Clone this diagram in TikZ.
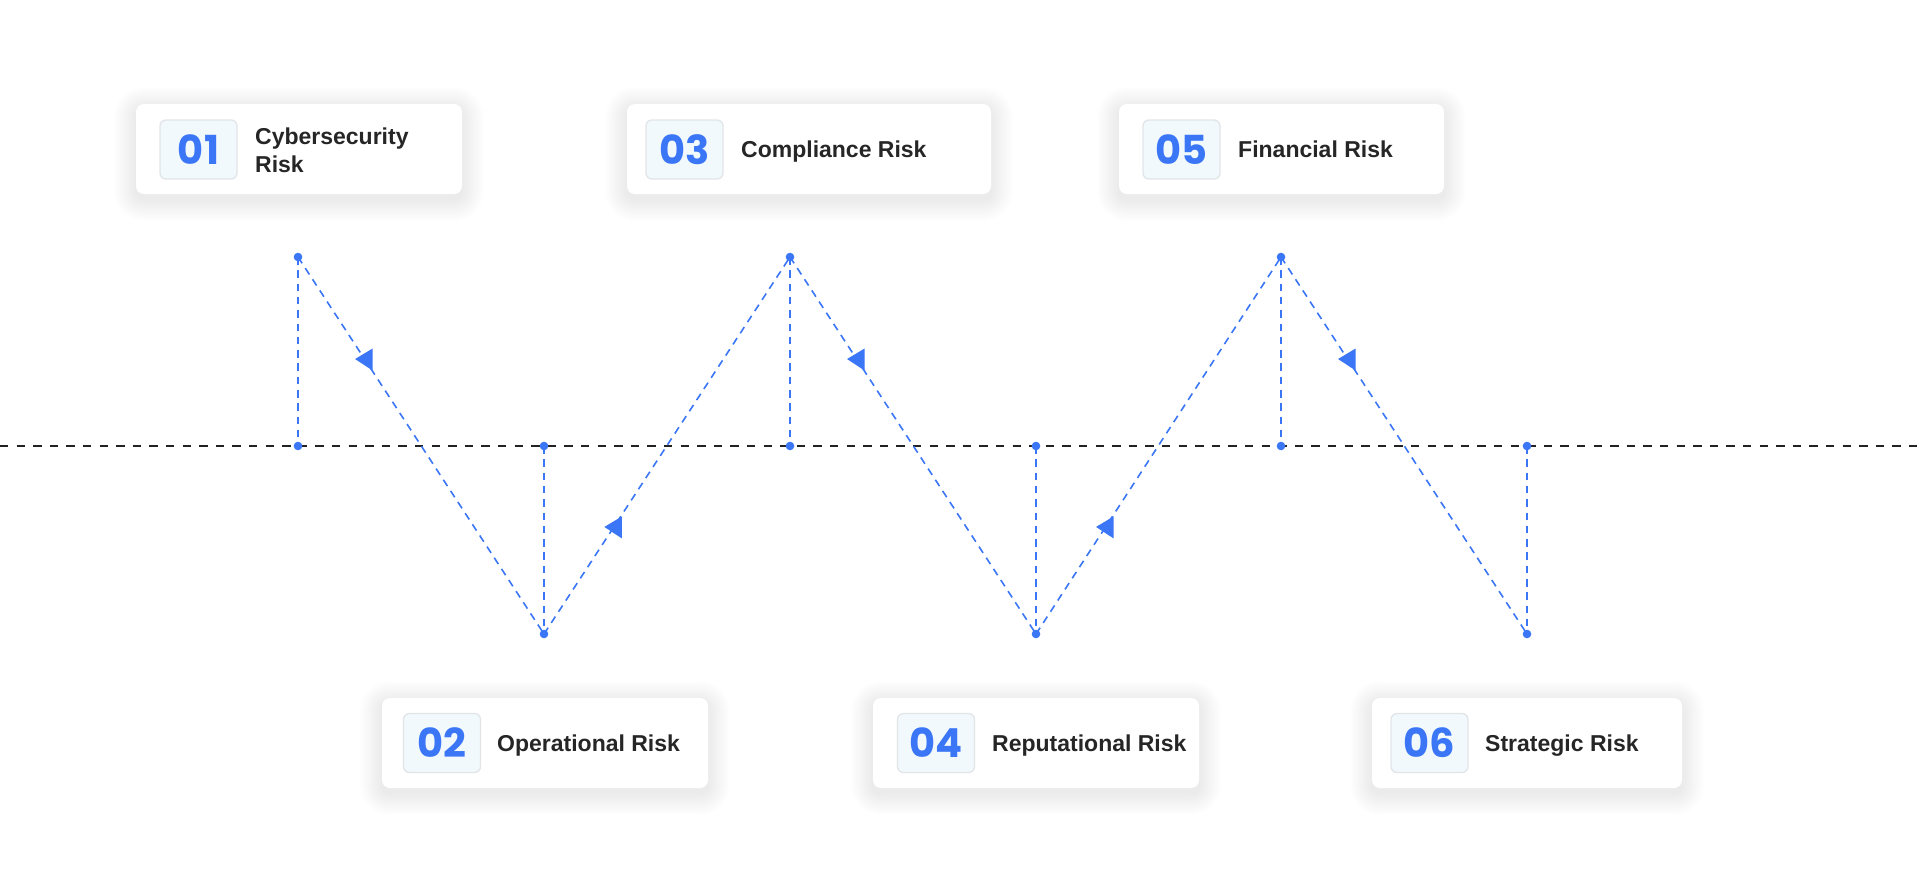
\documentclass[tikz,border=0pt]{standalone}
\usepackage{fontspec}
\setmainfont{Liberation Sans}
\newfontfamily\numfont{Poppins}
\usetikzlibrary{calc,backgrounds}
\definecolor{accent}{HTML}{3B76F6}
\definecolor{numfill}{HTML}{F1F9FD}
\definecolor{numborder}{HTML}{E2E5E8}
\definecolor{textdark}{HTML}{262626}
\definecolor{axisc}{HTML}{222222}
\tikzset{
  card/.style={fill=white, draw=none, rounded corners=8pt, minimum height=90pt, inner sep=0pt},
  numbox/.style={fill=numfill, draw=numborder, line width=1.3pt, rounded corners=6pt,
    minimum width=77pt, minimum height=59pt, inner sep=0pt, text=accent,
    font=\numfont\fontsize{40}{40}\selectfont\bfseries},
  lbl/.style={anchor=base west, inner sep=0pt, text=textdark, align=left,
    font=\fontsize{23}{28}\selectfont\bfseries},
  dot/.style={circle, fill=accent, draw=none, minimum size=8.6pt, inner sep=0pt},
  guide/.style={draw=accent, line width=1.6pt, dash pattern=on 7.5pt off 5.8pt},
  axisline/.style={draw=axisc, line width=2pt, dash pattern=on 8.3pt off 8.3pt},
  headfill/.style={fill=accent},
}
\begin{document}
\begin{tikzpicture}[x=1pt,y=-1pt]
\useasboundingbox (0,0) rectangle (1920,884);

% cards
\node[card, minimum width=326pt] (c1) at (299,149) {};
\node[card, minimum width=364pt] (c3) at (809,149) {};
\node[card, minimum width=325pt] (c5) at (1281.5,149) {};
\node[card, minimum width=326pt] (c2) at (545,743) {};
\node[card, minimum width=326pt] (c4) at (1036,743) {};
\node[card, minimum width=310pt] (c6) at (1527,743) {};

\begin{pgfonlayer}{background}
  \fill[white] (0,0) rectangle (1920,884);
  \foreach \c in {c1,c2,c3,c4,c5,c6}{
    \foreach \i in {1,...,20}{
      \pgfmathsetmacro\rr{8+1.1*\i}
      \pgfmathsetmacro\ss{1.1*\i}
      \fill[black, opacity=0.0028, rounded corners=\rr pt]
        ([xshift=-\ss pt, yshift=\ss pt-5pt]\c.north west) rectangle
        ([xshift=\ss pt, yshift=-\ss pt-5pt]\c.south east);
    }
  }
\end{pgfonlayer}

% number boxes
\node[numbox] (n1) at (198.5,149.5) {01};
\node[numbox] (n3) at (684.5,149.5) {03};
\node[numbox] (n5) at (1181.5,149.5) {05};
\node[numbox] (n2) at (442,743) {02};
\node[numbox] (n4) at (936,743) {04};
\node[numbox] (n6) at (1429.5,743) {06};

% labels
\node[lbl] (l1) at (255,172) {Cybersecurity\\Risk};
\node[lbl] (l3) at (741,157) {Compliance Risk};
\node[lbl] (l5) at (1238,157) {Financial Risk};
\node[lbl] (l2) at (497,751) {Operational Risk};
\node[lbl] (l4) at (992,751) {Reputational Risk};
\node[lbl] (l6) at (1485,751) {Strategic Risk};

% axis
\coordinate (L) at (0,446);
\coordinate (R) at (1920,446);
\draw[axisline] (L) -- (R);

% points
\coordinate (t1) at (298,257);
\coordinate (m1) at (298,446);
\coordinate (m2) at (544,446);
\coordinate (b1) at (544,634);
\coordinate (t2) at (790,257);
\coordinate (m3) at (790,446);
\coordinate (m4) at (1036,446);
\coordinate (b2) at (1036,634);
\coordinate (t3) at (1281,257);
\coordinate (m5) at (1281,446);
\coordinate (m6) at (1527,446);
\coordinate (b3) at (1527,634);

% guide lines
\draw[guide] (t1) -- (m1);
\draw[guide] (m2) -- (b1);
\draw[guide] (t2) -- (m3);
\draw[guide] (m4) -- (b2);
\draw[guide] (t3) -- (m5);
\draw[guide] (m6) -- (b3);
\draw[guide] (t1) -- (b1);
\draw[guide] (b1) -- (t2);
\draw[guide] (t2) -- (b2);
\draw[guide] (b2) -- (t3);
\draw[guide] (t3) -- (b3);

% arrow heads
\coordinate (a1) at ($(t1)!0.2706!(b1)$);
\coordinate (a2) at ($(b1)!0.284!(t2)$);
\coordinate (a3) at ($(t2)!0.2706!(b2)$);
\coordinate (a4) at ($(b2)!0.284!(t3)$);
\coordinate (a5) at ($(t3)!0.2706!(b3)$);
\foreach \a in {a1,a2,a3,a4,a5}{
  \fill[headfill] ([xshift=-9.5pt]\a) -- ++(17.5pt,10.5pt) -- ++(0pt,-22pt) -- cycle;
}

% dots
\foreach \p in {t1,m1,m2,b1,t2,m3,m4,b2,t3,m5,m6,b3}{
  \node[dot] (d\p) at (\p) {};
}
\end{tikzpicture}
\end{document}
